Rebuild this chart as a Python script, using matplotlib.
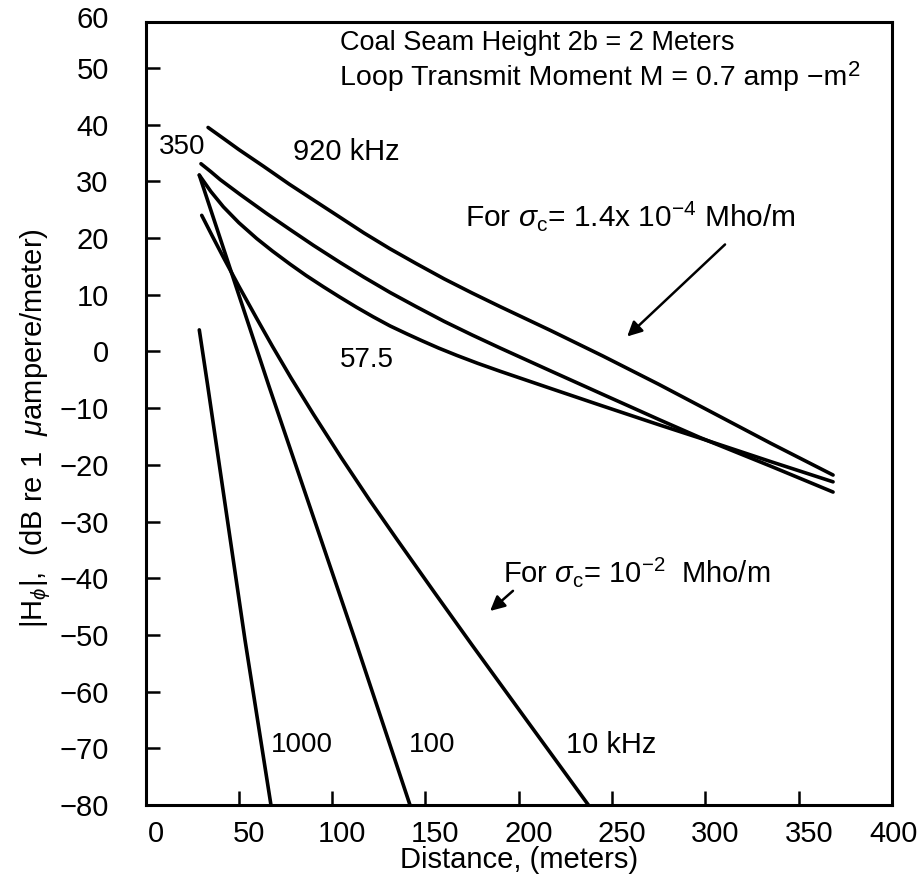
import matplotlib
matplotlib.use('Agg')
import matplotlib.pyplot as plt
import matplotlib.transforms as transforms

# curves: distance (m) vs |H_phi| (dB re 1 uA/m)
# sigma_c = 1.4e-4 mho/m
d_920 = [33.5, 42, 50, 63, 77, 90, 104, 117, 131, 145, 160, 175, 190, 217, 245, 275, 305, 335, 368.4]
h_920 = [39.5, 37.5, 35.6, 32.7, 29.5, 26.7, 23.7, 20.9, 18.1, 15.5, 12.8, 10.3, 7.9, 3.7, -0.8, -5.8, -11.0, -16.2, -21.8]

d_350 = [29.7, 35, 40, 50.6, 65, 77.4, 90, 104.2, 117, 131, 145, 160, 175, 190, 216.8, 243.8, 275.7, 297.2, 334.7, 368.4]
h_350 = [33.1, 31.7, 30.3, 27.7, 24.3, 21.5, 18.7, 15.7, 13.1, 10.4, 7.9, 5.3, 2.9, 0.6, -3.4, -7.4, -12.1, -15.2, -20.2, -24.8]

d_575 = [28.8, 32, 35, 41.7, 50, 59.6, 68, 77.4, 86, 95.3, 104, 113, 122, 131, 140, 148, 157, 166.8,
         178, 190, 216.8, 243.8, 275.7, 297.2, 334.7, 368.4]
h_575 = [31.1, 29.6, 28.2, 25.5, 22.7, 19.9, 17.7, 15.4, 13.4, 11.4, 9.6, 7.8, 6.1, 4.5, 3.1, 1.9, 0.6, -0.7,
         -2.1, -3.5, -6.5, -9.5, -13.0, -15.3, -19.4, -23.0]

# sigma_c = 1e-2 mho/m
d_10 = [30.1, 36, 41.7, 50, 59.6, 68, 78, 90, 105, 120, 134.8, 155, 175, 205, 237.3]
h_10 = [24.0, 20.2, 16.6, 11.5, 5.8, 0.9, -4.7, -11.1, -18.8, -26.2, -33.2, -42.6, -51.8, -65.4, -80]

d_100 = [28.8, 66.0, 112.3, 141.7]
h_100 = [31.1, -6.0, -50.9, -80]

d_1000 = [28.8, 33.2, 53.3, 67.2]
h_1000 = [3.8, -5.8, -50.9, -80]

xticks = list(range(0, 401, 50))
yticks = list(range(-80, 51, 10))

plt.rcParams['font.family'] = ['Liberation Sans', 'DejaVu Sans']
plt.rcParams['mathtext.fontset'] = 'custom'
plt.rcParams['mathtext.rm'] = 'Liberation Sans'
plt.rcParams['mathtext.it'] = 'Liberation Sans:italic'
plt.rcParams['mathtext.bf'] = 'Liberation Sans:bold'

fig = plt.figure(figsize=(9.2, 8.8), dpi=100)
ax = fig.add_axes([0.1582, 0.0852, 0.8114, 0.8898])

curves = [(d_920, h_920), (d_350, h_350), (d_575, h_575),
          (d_10, h_10), (d_100, h_100), (d_1000, h_1000)]
for d, h in curves:
    ax.plot(d, h, color='black', lw=2.6, solid_capstyle='round', solid_joinstyle='round')

ax.set_xlim(0, 400)
ax.set_ylim(-80, 58.1)
ax.set_xticks(xticks)
ax.set_yticks(yticks)
ax.tick_params(direction='in', length=10, width=1.8, labelsize=21)
ax.tick_params(axis='y', pad=26.5)
ax.tick_params(axis='x', pad=11)
for s in ax.spines.values():
    s.set_linewidth(2.2)

# x tick labels sit a little right of their ticks in the original
labs = ax.get_xticklabels()
for i, lab in enumerate(labs):
    dx = 0.1 if i < len(labs) - 1 else 0.02
    lab.set_transform(lab.get_transform() + transforms.ScaledTranslation(dx, 0, fig.dpi_scale_trans))

# the "60" label sits at the top edge of the box
ax.text(-0.0493, 1.0026, '60', transform=ax.transAxes, fontsize=21,
        ha='right', va='center')

ax.set_xlabel('Distance, (meters)', fontsize=21)
ax.xaxis.set_label_coords(0.5, -0.052)
ax.set_ylabel('|H$_{\\phi}$|,  (dB re 1  $\\mu$ampere/meter)', fontsize=21)
ax.yaxis.set_label_coords(-0.124, 0.481)

ax.text(104, 54.4, 'Coal Seam Height 2b = 2 Meters', fontsize=19.5, va='center')
loop = ax.text(104, 48.2, 'Loop Transmit Moment M = 0.7 amp \u2212m', fontsize=20.5, va='center')
ax.annotate('2', xy=(1.0, 0.78), xycoords=loop, xytext=(1, 0), textcoords='offset points',
            fontsize=16, ha='left', va='center')

ax.text(19.8, 36.0, '350', fontsize=20, ha='center', va='center')
ax.text(79, 35.1, '920 kHz', fontsize=21, va='center')
ax.text(104.2, -1.5, '57.5', fontsize=20, va='center')
ax.text(67.2, -69.5, '1000', fontsize=20, va='center')
ax.text(141.3, -69.5, '100', fontsize=20, va='center')
ax.text(225.2, -69.5, '10 kHz', fontsize=21, va='center')

ax.text(171.2, 23.8, 'For $\\sigma_{\\mathrm{c}}$= 1.4x 10$^{-4}$ Mho/m', fontsize=21.5, va='center')
ax.annotate('', xy=(257, 2.3), xytext=(311.6, 19.2),
            arrowprops=dict(arrowstyle='-|>', color='black', lw=1.8, mutation_scale=22))

ax.text(191.6, -38.9, 'For $\\sigma_{\\mathrm{c}}$= 10$^{-2}$  Mho/m', fontsize=21, va='center')
ax.annotate('', xy=(183.5, -46.1), xytext=(198, -41.9),
            arrowprops=dict(arrowstyle='-|>', color='black', lw=1.8, mutation_scale=22))

fig.savefig('out.png', dpi=100)
